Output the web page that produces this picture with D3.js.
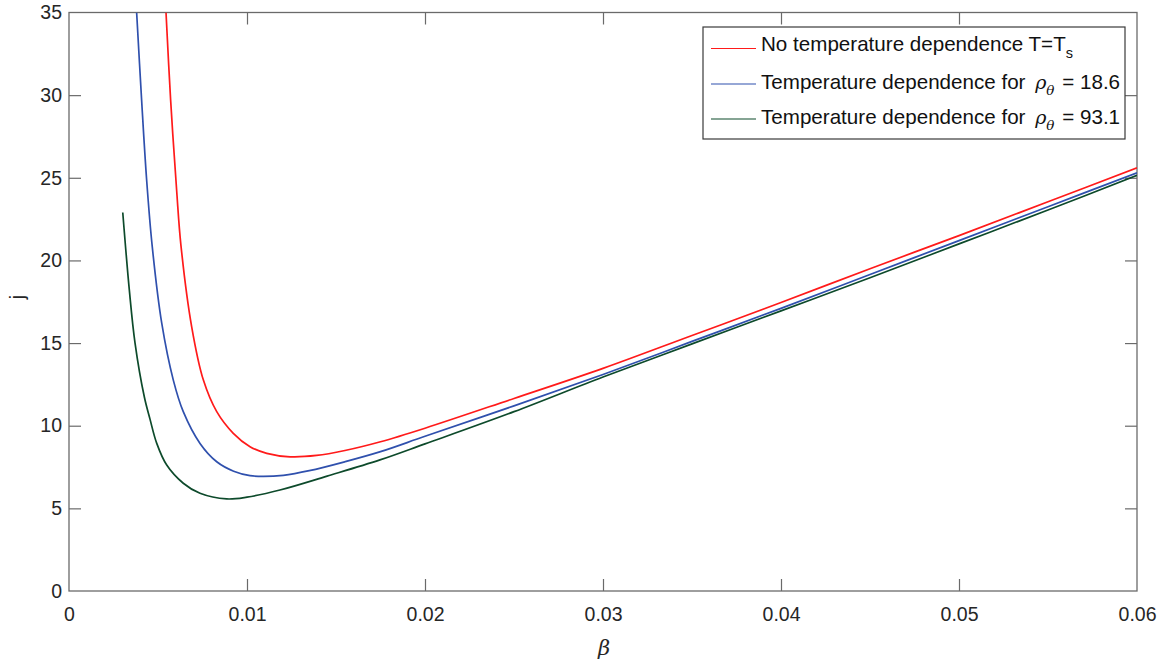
<!DOCTYPE html>
<html>
<head>
<meta charset="utf-8">
<script src="https://cdn.jsdelivr.net/npm/d3@7"></script>
<style>
  html, body { margin: 0; padding: 0; background: #fff; }
  svg { display: block; font-family: "Liberation Sans", Arial, Helvetica, sans-serif; }
</style>
</head>
<body>
<svg id="chart" width="1162" height="662"></svg>
<script>
// ---- data ----
const xTicks = [0, 0.01, 0.02, 0.03, 0.04, 0.05, 0.06];
const yTicks = [0, 5, 10, 15, 20, 25, 30, 35];

const redBeta = [0.00545, 0.00571, 0.00605, 0.00629, 0.00689, 0.00755, 0.0083, 0.00923, 0.01017, 0.01111, 0.01242, 0.01391, 0.0155, 0.0175, 0.020, 0.025, 0.030, 0.035, 0.040, 0.045, 0.050, 0.055, 0.060];
const redJ    = [35, 29.7, 24.2, 20.9, 16.0, 12.76, 10.85, 9.54, 8.73, 8.33, 8.12, 8.2, 8.5, 9.03, 9.85, 11.65, 13.47, 15.46, 17.45, 19.5, 21.5, 23.55, 25.6];

const blueBeta = [0.0038, 0.00408, 0.00436, 0.00468, 0.00521, 0.00586, 0.00642, 0.00736, 0.0083, 0.00925, 0.01017, 0.0109, 0.01204, 0.0135, 0.0155, 0.0175, 0.020, 0.025, 0.030, 0.035, 0.040, 0.045, 0.050, 0.055, 0.060];
const blueJ    = [35, 29.7, 24.9, 20.8, 16.2, 12.76, 10.85, 8.93, 7.82, 7.25, 6.98, 6.93, 7.0, 7.28, 7.82, 8.43, 9.36, 11.2, 13.1, 15.1, 17.1, 19.15, 21.2, 23.25, 25.3];

const greenBeta = [0.00302, 0.00339, 0.00371, 0.00423, 0.00455, 0.00493, 0.00549, 0.00642, 0.00736, 0.00886, 0.0100, 0.01185, 0.0145, 0.01747, 0.020, 0.025, 0.030, 0.035, 0.040, 0.045, 0.050, 0.055, 0.060];
const greenJ    = [22.9, 18.2, 15.0, 11.75, 10.4, 8.93, 7.62, 6.52, 5.91, 5.57, 5.68, 6.11, 6.95, 7.93, 8.9, 10.85, 12.95, 14.95, 16.95, 18.95, 21.0, 23.05, 25.15];

const seriesNames = ["No temperature dependence T=T", "Temperature dependence for ", "Temperature dependence for "];
const seriesColors = ["#ff1a1a", "#2f50ad", "#0d4a2b"];

// ---- layout ----
const svg = d3.select("#chart");
const L = 69, R = 1137, T = 12.5, B = 591;
const x = d3.scaleLinear().domain([0, 0.06]).range([L, R]);
const y = d3.scaleLinear().domain([0, 35]).range([B, T]);
const axisColor = "#6a6a6a";
const fontSize = "19.5px";

svg.append("defs").append("clipPath").attr("id", "clip")
  .append("rect").attr("x", L).attr("y", T).attr("width", R - L).attr("height", B - T);

// ticks (inward, all four sides) via d3 axes
const tickLen = 12;
const gB = svg.append("g").attr("transform", `translate(0,${B})`)
  .call(d3.axisBottom(x).tickValues(xTicks).tickSize(-tickLen).tickPadding(16).tickFormat(d => d === 0 ? "0" : d3.format(".2f")(d)));
const gT = svg.append("g").attr("transform", `translate(0,${T})`)
  .call(d3.axisTop(x).tickValues(xTicks).tickSize(-tickLen).tickFormat(""));
const gL = svg.append("g").attr("transform", `translate(${L},0)`)
  .call(d3.axisLeft(y).tickValues(yTicks).tickSize(-tickLen).tickPadding(7).tickFormat(d3.format("d")));
const gR = svg.append("g").attr("transform", `translate(${R},0)`)
  .call(d3.axisRight(y).tickValues(yTicks).tickSize(-tickLen).tickFormat(""));

[gB, gT, gL, gR].forEach(g => {
  g.select(".domain").remove();
  g.selectAll(".tick line").attr("stroke", axisColor).attr("stroke-width", 1.2);
  g.selectAll(".tick text").attr("fill", "#262626").style("font-size", fontSize).style("font-family", "'Liberation Sans', Arial, sans-serif");
});
// remove tick marks at the box corners
gB.selectAll(".tick").filter(d => d === 0 || d === 0.06).select("line").remove();
gT.selectAll(".tick").filter(d => d === 0 || d === 0.06).select("line").remove();
gL.selectAll(".tick").filter(d => d === 0 || d === 35).select("line").remove();
gR.selectAll(".tick").filter(d => d === 0 || d === 35).select("line").remove();

// box
svg.append("rect").attr("x", L).attr("y", T).attr("width", R - L).attr("height", B - T)
  .attr("fill", "none").attr("stroke", axisColor).attr("stroke-width", 1.3);

// curves
const line = d3.line().x(d => x(d[0])).y(d => y(d[1])).curve(d3.curveCatmullRom.alpha(0.5));
const series = [
  d3.zip(redBeta, redJ),
  d3.zip(blueBeta, blueJ),
  d3.zip(greenBeta, greenJ)
];
const gLines = svg.append("g").attr("clip-path", "url(#clip)");
series.forEach((s, i) => {
  gLines.append("path").datum(s).attr("d", line)
    .attr("fill", "none").attr("stroke", seriesColors[i]).attr("stroke-width", 1.7)
    .attr("stroke-linejoin", "round");
});

// axis labels
svg.append("text").attr("x", 604).attr("y", 655).attr("text-anchor", "middle")
  .style("font-size", "21px").style("font-style", "italic").style("font-family", "'DejaVu Serif', serif").attr("fill", "#262626").text("β");
svg.append("text").attr("transform", "translate(24,297) rotate(-90)").attr("text-anchor", "middle")
  .style("font-size", "20px").attr("fill", "#262626").text("j");

// legend
const lg = svg.append("g");
lg.append("rect").attr("x", 703).attr("y", 27).attr("width", 422).attr("height", 112)
  .attr("fill", "#fff").attr("stroke", "#3a3a3a").attr("stroke-width", 1.2);
const rowsY = [48.5, 84, 119];
const baseY = [51, 89, 124];
const subs = ["s", "18.6", "93.1"];
rowsY.forEach((ry, i) => {
  lg.append("line").attr("x1", 711).attr("x2", 756).attr("y1", ry).attr("y2", ry)
    .attr("stroke", seriesColors[i]).attr("stroke-width", 1.2);
  const t = lg.append("text").attr("x", 761).attr("y", baseY[i]).style("font-size", "20.6px").attr("fill", "#111");
  t.append("tspan").text(seriesNames[i]);
  if (i === 0) {
    t.append("tspan").attr("dy", 7).style("font-size", "14.5px").text("s");
  } else {
    t.append("tspan").attr("dx", 4).style("font-style", "italic").style("font-family", "'DejaVu Serif', serif").style("font-size", "19px").text("ρ");
    t.append("tspan").attr("dy", 6).style("font-style", "italic").style("font-family", "'DejaVu Serif', serif").style("font-size", "13.5px").text("θ");
    t.append("tspan").attr("dy", -6).attr("dx", 2).text(" = " + subs[i]);
  }
});
</script>
</body>
</html>
